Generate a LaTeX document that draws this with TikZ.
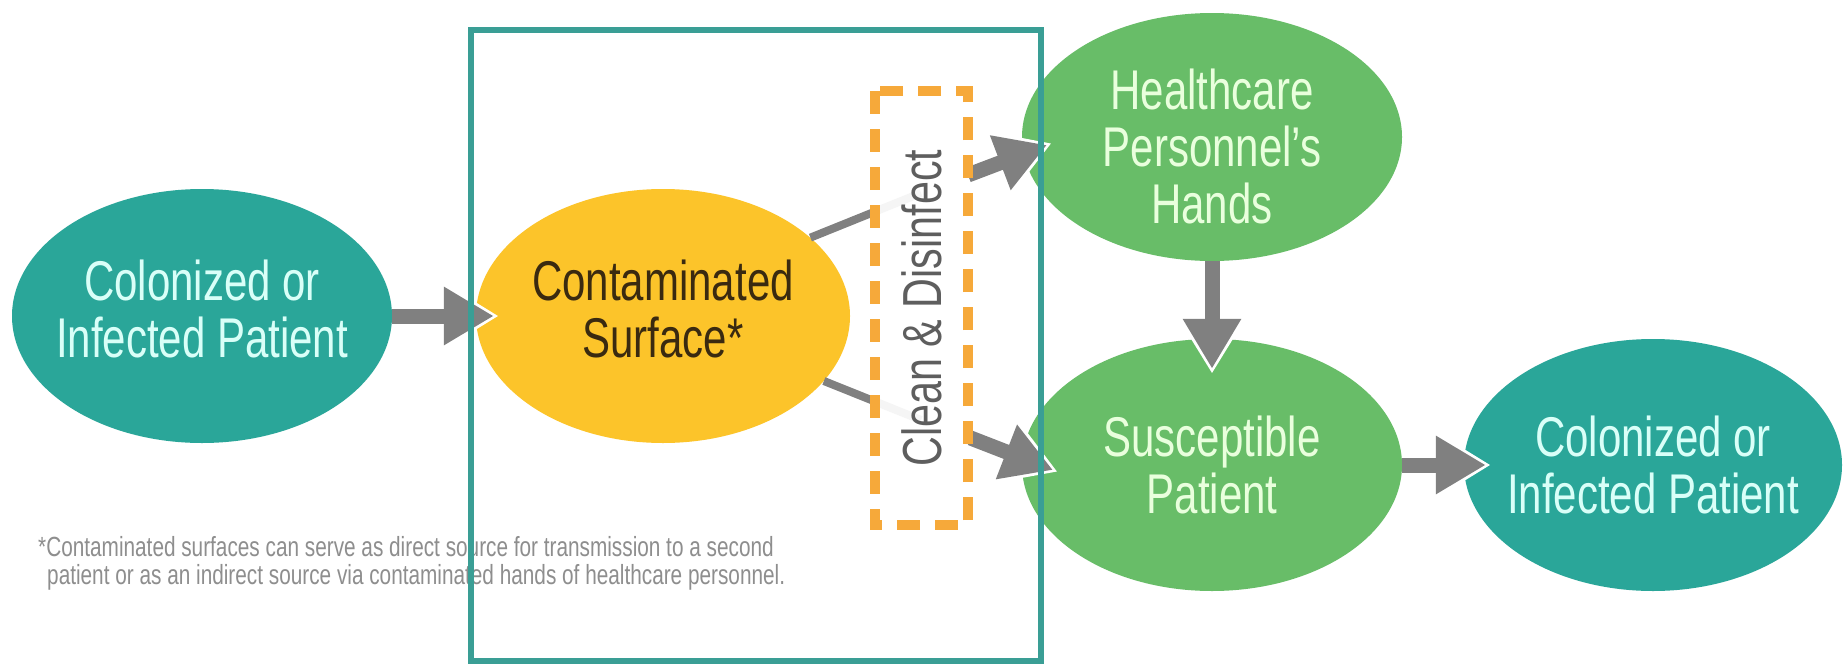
\documentclass[tikz,border=0pt]{standalone}
\usepackage{fontspec}
\setmainfont{Liberation Sans}[FakeStretch=0.75]
\usetikzlibrary{shapes.geometric,arrows.meta}
\definecolor{tealfill}{HTML}{2AA699}
\definecolor{tealtxt}{HTML}{D9FFF8}
\definecolor{greenfill}{HTML}{68BD68}
\definecolor{greentxt}{HTML}{E9FFDD}
\definecolor{yellowfill}{HTML}{FCC42A}
\definecolor{yellowtxt}{HTML}{3A2A10}
\definecolor{arrowgray}{HTML}{808080}
\definecolor{dashorange}{HTML}{F6A93A}
\definecolor{frameteal}{HTML}{3A9E95}
\definecolor{notegray}{HTML}{8E8E8E}
\definecolor{cleangray}{HTML}{5E5E5E}
\begin{document}
\begin{tikzpicture}[x=1pt,y=-1pt,
  ell/.style={ellipse, draw=none, inner sep=0pt},
  lab/.style={align=center, inner sep=0pt, font=\fontsize{56}{57}\selectfont},
  bigarrow/.style={draw=arrowgray, line width=15pt, -{Triangle[length=50pt,width=55pt]}},
  halo/.style={draw=white, line width=15pt, -{Triangle[length=58pt,width=66pt]}},
  thinline/.style={draw=arrowgray, line width=8pt},
  cdbox/.style={draw=dashorange, line width=10pt, dash pattern=on 23pt off 15pt,
    fill=white, fill opacity=0.92, text opacity=1, inner sep=0pt, text=cleangray,
    font=\fontsize{55}{57}\selectfont},
  note/.style={anchor=west, align=left, text=notegray, inner sep=0pt,
    font=\fontsize{27.7}{28}\selectfont},
]
\useasboundingbox (0,0) rectangle (1847,664);
\fill[white] (0,0) rectangle (1847,664);

% ellipses
\node[ell, fill=tealfill, minimum width=380pt, minimum height=254pt] (c1) at (202,316) {};
\node[ell, fill=yellowfill, minimum width=374pt, minimum height=254pt] (cs) at (663,316) {};
\node[ell, fill=greenfill, minimum width=380pt, minimum height=248pt] (hands) at (1212,137) {};
\node[ell, fill=greenfill, minimum width=380pt, minimum height=252pt] (sus) at (1212,465) {};
\node[ell, fill=tealfill, minimum width=378pt, minimum height=252pt] (c2) at (1653,465) {};

% labels
\node[lab, text=tealtxt, yshift=7pt] (c1l) at (c1) {Colonized or\\Infected Patient};
\node[lab, text=yellowtxt, yshift=7pt] (csl) at (cs) {Contaminated\\Surface*};
\node[lab, text=greentxt, yshift=-9pt] (handsl) at (hands) {Healthcare\\Personnel's\\Hands};
\node[lab, text=greentxt] (susl) at (sus) {Susceptible\\Patient};
\node[lab, text=tealtxt] (c2l) at (c2) {Colonized or\\Infected Patient};

% free ends
\coordinate (um) at (921,193);
\coordinate (ur) at (968,175);
\coordinate (lm) at (921,420);
\coordinate (lr) at (968,437);
\coordinate (hT) at (1047,145);
\coordinate (sT) at (1053,470);

% halos behind the arrow heads
\draw[halo, shorten >=-23pt] (c1) -- (cs);
\draw[halo, shorten >=-5pt] (ur) -- (hT);
\draw[halo, shorten >=-5pt] (lr) -- (sT);
\draw[halo, shorten >=-35pt] (hands) -- (sus);
\draw[halo, shorten >=-27pt] (sus) -- (c2);

% connectors
\draw[bigarrow, shorten >=-18pt] (c1) -- (cs);
\draw[thinline] (cs.28) -- (um);
\draw[bigarrow] (ur) -- (hT);
\draw[thinline] (cs.-22) -- (lm);
\draw[bigarrow] (lr) -- (sT);
\draw[bigarrow, shorten >=-30pt] (hands) -- (sus);
\draw[bigarrow, shorten >=-22pt] (sus) -- (c2);

% clean & disinfect box
\node[cdbox, rotate=90, minimum width=434pt, minimum height=93pt] (cd) at (921.5,308) {Clean \& Disinfect};

% footnote
\node[note] (fn) at (38,563) {*Contaminated surfaces can serve as direct source for transmission to a second\\\hspace*{9pt}patient or as an indirect source via contaminated hands of healthcare personnel.};

% frame
\draw[frameteal, line width=6pt] (471,30) rectangle (1041,661);
\end{tikzpicture}
\end{document}
